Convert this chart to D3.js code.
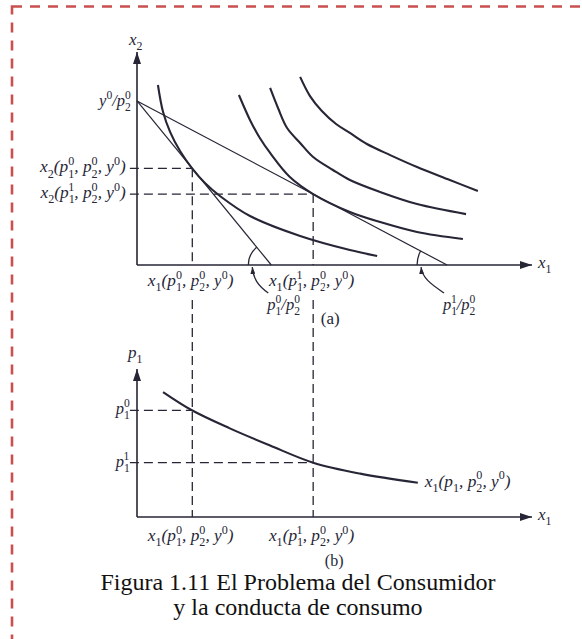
<!DOCTYPE html>
<html>
<head>
<meta charset="utf-8">
<script src="https://cdn.jsdelivr.net/npm/d3@7"></script>
<style>
  body { margin: 0; background: #fff; }
  svg { display: block; }
</style>
</head>
<body>
<svg id="fig" width="582" height="639"></svg>
<script>
// ---- Panel (a): budget sets and indifference curves, x1 and x2 on 0–100 ----
const incomeOverP2 = 77;                 // y0 / p2^0, vertical intercept
const budgetIntercepts = [34, 78.5];     // y0 / p1, at p1^0 and at p1^1
const optimumX1 = [14, 44.6];            // x1(p1^0,...), x1(p1^1,...)
const optimumX2 = [45.4, 33.3];          // x2(p1^0,...), x2(p1^1,...)

const curveU1 = [[5.3,84.5],[6.6,71.8],[8.4,62.4],[10.9,53.5],[13.9,45.5],[17.2,38.5],
                 [21.0,32.4],[28.6,23.0],[41.3,13.6],[53.9,7.0],[60.8,4.2]];
const curveU2 = [[25.8,79.8],[28.6,68.1],[31.1,59.6],[33.7,52.6],[38.7,41.3],[44.6,33.3],
                 [53.9,24.9],[61.5,20.2],[70.9,15.5],[82.5,12.2]];
const curveU3 = [[33.7,83.1],[35.7,73.7],[38.0,64.3],[41.3,57.3],[44.6,50.7],[49.6,44.6],
                 [53.9,39.9],[61.5,34.3],[70.9,28.6],[83.3,23.9]];
const curveU4 = [[41.3,88.3],[43.8,79.3],[46.8,72.3],[50.4,66.2],[53.9,62.0],[58.2,56.8],
                 [64.1,51.6],[70.9,46.0],[79.2,39.9],[86.3,34.7]];

// ---- Panel (b): demand for good 1, p1 on 0–100 ----
const priceLevels = [72.1, 36.7];        // p1^0, p1^1
const demandCurve = [[6.6,84.4],[13.9,72.1],[23.5,59.9],[33.7,48.3],[44.6,36.7],
                     [56.5,29.3],[71.1,23.1]];

// ---- Text ----
const yLabelsA = ["y^{0}/p_{2}^{0}", "x_{2}(p_{1}^{0}, p_{2}^{0}, y^{0})", "x_{2}(p_{1}^{1}, p_{2}^{0}, y^{0})"];
const xLabels = ["x_{1}(p_{1}^{0}, p_{2}^{0}, y^{0})", "x_{1}(p_{1}^{1}, p_{2}^{0}, y^{0})"];
const slopeLabels = ["p_{1}^{0}/p_{2}^{0}", "p_{1}^{1}/p_{2}^{0}"];
const priceLabels = ["p_{1}^{0}", "p_{1}^{1}"];
const demandLabel = "x_{1}(p_{1}, p_{2}^{0}, y^{0})";
const caption = ["Figura 1.11 El Problema del Consumidor", "y la conducta de consumo"];

const ink = "#262636";
const labelFont = "'Liberation Serif', 'Times New Roman', serif";
const svg = d3.select("#fig");

// dashed frame around the figure
svg.append("rect")
  .attr("x", 12).attr("y", 6.5).attr("width", 600).attr("height", 700)
  .attr("fill", "none").attr("stroke", "#c9504f").attr("stroke-width", 2.6)
  .attr("stroke-dasharray", "10,8");

// scales
const x = d3.scaleLinear().domain([0, 100]).range([137, 532]);
const yA = d3.scaleLinear().domain([0, 100]).range([265, 52]);
const yB = d3.scaleLinear().domain([0, 100]).range([517, 369]);

// arrowhead markers
const defs = svg.append("defs");
function marker(id, w, h) {
  defs.append("marker").attr("id", id)
    .attr("viewBox", `0 ${-h/2} ${w} ${h}`).attr("refX", w).attr("refY", 0)
    .attr("markerWidth", w).attr("markerHeight", h).attr("markerUnits", "userSpaceOnUse")
    .attr("orient", "auto")
    .append("path").attr("d", `M0,${-h/2}L${w},0L0,${h/2}Z`).attr("fill", ink);
}
marker("axisHead", 12, 8);
marker("smallHead", 7, 5);

// rich text with stacked sub/superscripts: _{..} and ^{..}
function rich(g, str, size, opts = {}) {
  const t = g.append("text")
    .attr("font-family", labelFont).attr("font-size", size)
    .attr("font-style", opts.upright ? "normal" : "italic")
    .attr("fill", ink);
  const small = size * 0.7, subOff = size * 0.31, supOff = -size * 0.43;
  let off = 0;
  const re = /_\{([^}]*)\}\^\{([^}]*)\}|_\{([^}]*)\}|\^\{([^}]*)\}|([^_^]+)/g;
  let m;
  while ((m = re.exec(str)) !== null) {
    if (m[1] !== undefined) {
      const s = t.append("tspan").attr("font-size", small).attr("font-style", "normal")
        .attr("dy", subOff - off).text(m[1]);
      const w = s.node().getComputedTextLength();
      t.append("tspan").attr("font-size", small).attr("font-style", "normal")
        .attr("dx", -w).attr("dy", supOff - subOff).text(m[2]);
      off = supOff;
    } else if (m[3] !== undefined) {
      t.append("tspan").attr("font-size", small).attr("font-style", "normal")
        .attr("dy", subOff - off).text(m[3]);
      off = subOff;
    } else if (m[4] !== undefined) {
      t.append("tspan").attr("font-size", small).attr("font-style", "normal")
        .attr("dy", supOff - off).text(m[4]);
      off = supOff;
    } else {
      t.append("tspan").attr("dy", -off).text(m[5]);
      off = 0;
    }
  }
  return t;
}
// place text by its baseline; anchor: "start" | "middle" | "end"
function label(str, px, py, size, anchor = "start", opts = {}) {
  const g = svg.append("g");
  const t = rich(g, str, size, opts);
  const w = t.node().getBBox().width;
  const dx = anchor === "end" ? -w : anchor === "middle" ? -w / 2 : 0;
  g.attr("transform", `translate(${px + dx},${py})`);
  if (opts.halo) t.attr("stroke", "#fff").attr("stroke-width", 4).attr("paint-order", "stroke");
  return g;
}

const dash = g => g.attr("stroke", ink).attr("stroke-width", 1.3)
  .attr("stroke-dasharray", "9,5").attr("fill", "none");

// ---------- guides (dashed) ----------
optimumX1.forEach((v, i) => {
  svg.append("line").call(dash)
    .attr("x1", x(-1.8)).attr("x2", x(v)).attr("y1", yA(optimumX2[i])).attr("y2", yA(optimumX2[i]));
  svg.append("line").call(dash)
    .attr("x1", x(v)).attr("x2", x(v)).attr("y1", yA(optimumX2[i])).attr("y2", yA(0));
  svg.append("line").call(dash)
    .attr("x1", x(v)).attr("x2", x(v)).attr("y1", 300).attr("y2", yB(0));
  svg.append("line").call(dash)
    .attr("x1", x(-1.8)).attr("x2", x(v)).attr("y1", yB(priceLevels[i])).attr("y2", yB(priceLevels[i]));
});

// ---------- panel (a) ----------
// budget lines
budgetIntercepts.forEach(b => {
  svg.append("line").attr("x1", x(0)).attr("y1", yA(incomeOverP2))
    .attr("x2", x(b)).attr("y2", yA(0))
    .attr("stroke", ink).attr("stroke-width", 1.2);
});

// indifference curves
const lineA = d3.line().x(d => x(d[0])).y(d => yA(d[1])).curve(d3.curveCatmullRom.alpha(0.5));
[curveU1, curveU2, curveU3, curveU4].forEach(c => {
  svg.append("path").attr("d", lineA(c)).attr("fill", "none")
    .attr("stroke", ink).attr("stroke-width", 2.1);
});

// axes
svg.append("line").attr("x1", x(0)).attr("y1", yA(0)).attr("x2", x(0)).attr("y2", yA(100))
  .attr("stroke", ink).attr("stroke-width", 1.6).attr("marker-end", "url(#axisHead)");
svg.append("line").attr("x1", x(0)).attr("y1", yA(0)).attr("x2", x(100)).attr("y2", yA(0))
  .attr("stroke", ink).attr("stroke-width", 1.6).attr("marker-end", "url(#axisHead)");

// slope angle marks with pointer arrows
const arcRadius = [23, 30];
budgetIntercepts.forEach((b, i) => {
  const cx = x(b), cy = yA(0);
  const theta = Math.atan2(yA(0) - yA(incomeOverP2), x(b) - x(0));
  const p = d3.path();
  p.arc(cx, cy, arcRadius[i], Math.PI, Math.PI + theta, false);
  svg.append("path").attr("d", p.toString()).attr("fill", "none")
    .attr("stroke", ink).attr("stroke-width", 1.3);
  const r = arcRadius[i];
  const tip = [cx - r + 4, cy + 2];
  const start = [cx - 3, cy + 28];
  svg.append("path")
    .attr("d", `M${start[0]},${start[1]} C${start[0] - 10},${start[1] - 7} ${tip[0] + 1},${tip[1] + 12} ${tip[0]},${tip[1]}`)
    .attr("fill", "none").attr("stroke", ink).attr("stroke-width", 1.3)
    .attr("marker-end", "url(#smallHead)");
  label(slopeLabels[i], cx - 4, cy + 45, 16.5);
});

// axis names and value labels, panel (a)
label("x_{2}", x(0) - 8, yA(100) - 7, 17);
label("x_{1}", x(100) + 6, yA(0) + 3, 17);
label(yLabelsA[0], x(0) - 4, yA(incomeOverP2) + 5, 16.5, "end");
label(yLabelsA[1], x(0) - 10, yA(optimumX2[0]) + 4, 17.3, "end");
label(yLabelsA[2], x(0) - 10, yA(optimumX2[1]) + 4, 17.3, "end");
optimumX1.forEach((v, i) => label(xLabels[i], x(v) - 1, yA(0) + 21, 17.3, "middle", { halo: true }));
label("(a)", x(optimumX1[1]) + 17, 324, 17, "middle", { upright: true });

// ---------- panel (b) ----------
const lineB = d3.line().x(d => x(d[0])).y(d => yB(d[1])).curve(d3.curveCatmullRom.alpha(0.5));
svg.append("path").attr("d", lineB(demandCurve)).attr("fill", "none")
  .attr("stroke", ink).attr("stroke-width", 2.1);

svg.append("line").attr("x1", x(0)).attr("y1", yB(0)).attr("x2", x(0)).attr("y2", yB(100))
  .attr("stroke", ink).attr("stroke-width", 1.6).attr("marker-end", "url(#axisHead)");
svg.append("line").attr("x1", x(0)).attr("y1", yB(0)).attr("x2", x(100)).attr("y2", yB(0))
  .attr("stroke", ink).attr("stroke-width", 1.6).attr("marker-end", "url(#axisHead)");

label("p_{1}", x(0) - 9, yB(100) - 11, 17);
label("x_{1}", x(100) + 6, yB(0) + 3, 17);
priceLevels.forEach((v, i) => label(priceLabels[i], x(0) - 6, yB(v) + 4, 16.5, "end"));
const lastPt = demandCurve[demandCurve.length - 1];
label(demandLabel, x(lastPt[0]) + 7, yB(lastPt[1]) + 4, 17.3);
optimumX1.forEach((v, i) => label(xLabels[i], x(v) - 1, yB(0) + 24, 17.3, "middle"));
label("(b)", x(optimumX1[1]) + 21, 566, 16, "middle", { upright: true });

// ---------- caption ----------
caption.forEach((line, i) => {
  svg.append("text").attr("x", 298).attr("y", 590 + i * 24.5)
    .attr("text-anchor", "middle")
    .attr("font-family", "'Liberation Serif', 'Times New Roman', serif")
    .attr("font-size", 24).attr("fill", "#111").text(line);
});
</script>
</body>
</html>
